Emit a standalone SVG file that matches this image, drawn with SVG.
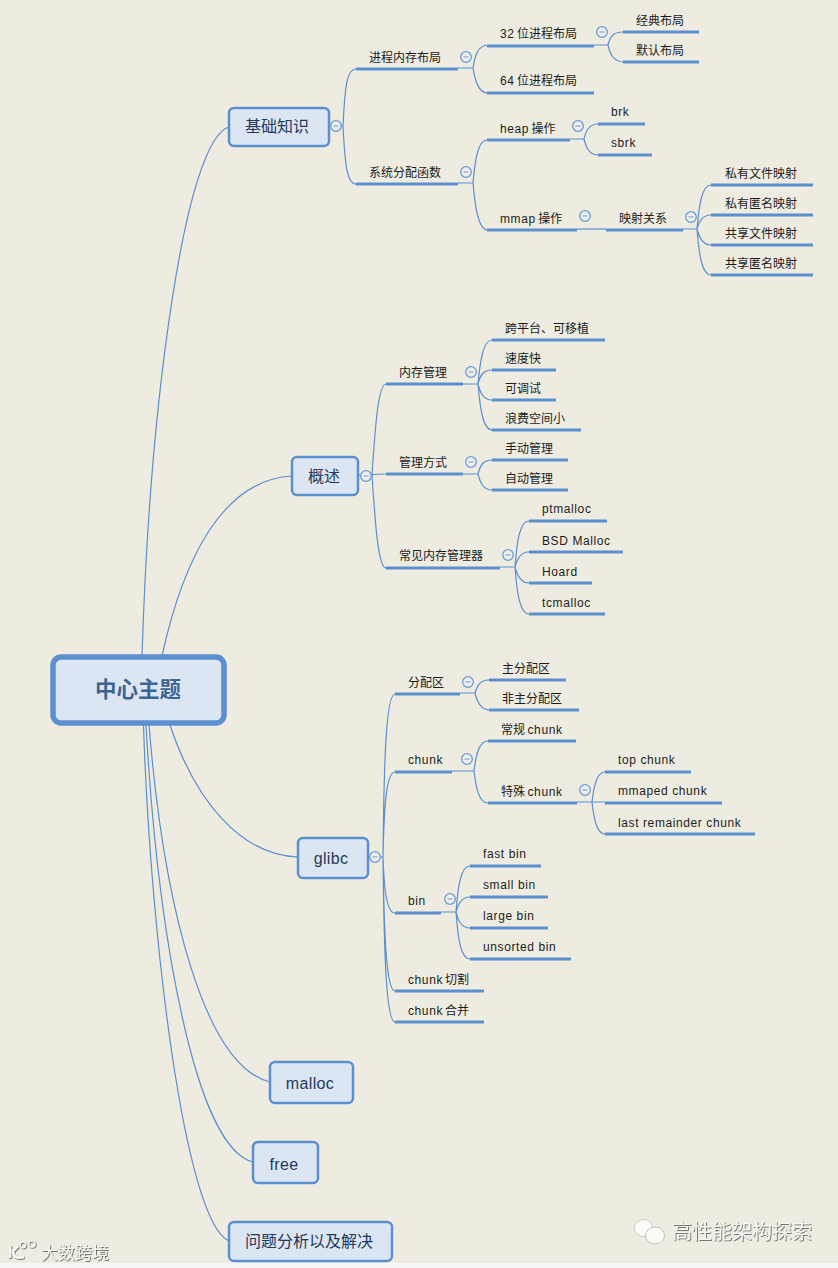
<svg xmlns="http://www.w3.org/2000/svg" width="838" height="1268" viewBox="0 0 838 1268">
<style>
text{font-family:"Liberation Sans","Noto Sans CJK SC",sans-serif}
.t{font-size:12px;fill:#1c1c1c;dominant-baseline:central;transform:translateY(1px)}
.t.ls{transform:none}
.ls{letter-spacing:.6px}
.b{fill:#dce6f3;stroke:#5b8fd0;stroke-width:2.5}
.bt{font-size:16px;fill:#24395a;text-anchor:middle;dominant-baseline:central}
.lat{letter-spacing:.35px}
.u{stroke:#5b8fd0;stroke-width:3;fill:none}
.c{stroke:#5b8fd0;stroke-width:1.2;fill:none}
.k{fill:#eeeeea;stroke:#6d9bd6;stroke-width:1.3}
.m{stroke:#6d9bd6;stroke-width:1}
.wm{fill:#f6f6f2;filter:url(#sh)}
</style>
<defs>
<filter id="sh" x="-10%" y="-20%" width="120%" height="140%"><feDropShadow dx=".8" dy=".8" stdDeviation=".35" flood-color="#444" flood-opacity=".9"/></filter>
<g id="col"><circle class="k" r="5.3"/><path class="m" d="M-2.5 0H2.5"/></g>
</defs>
<rect width="838" height="1268" fill="#eeece1"/>
<rect y="1263" width="838" height="5" fill="#f7f7f5"/>
<g id="connectors">
<path class="c" d="M142 656C150 400 185 140 229 127"/>
<path class="c" d="M162 656C183 560 222 480 292 476"/>
<path class="c" d="M170 725C195 800 240 855 298 857"/>
<path class="c" d="M149 725C164 910 205 1066 270 1082"/>
<path class="c" d="M146 725C158 940 196 1148 253 1162"/>
<path class="c" d="M143.500 725C150 930 184 1222 229 1241"/>
<path class="c" d="M329 126H343M343 126C345 85 347 69 356 69M343 126C345 165 347 184 356 184"/>
<path class="c" d="M458 68H473M473 68C475 55 478 46 487 45M473 68C475 80 478 92 487 93"/>
<path class="c" d="M594 45H608M608 45C610 37 613 32 623 32M608 45C610 54 613 61 623 62"/>
<path class="c" d="M458 183H473M473 183C475 160 478 140 487 140M473 183C475 205 478 229 487 230"/>
<path class="c" d="M570 139H584M584 139C586 131 589 124 598 124M584 139C586 147 589 155 598 155"/>
<path class="c" d="M577 229H606"/>
<path class="c" d="M683 229H697M697 229C699 205 702 185 711 185M697 229C699 222 702 215 711 215M697 229C699 236 702 245 711 245M697 229C699 255 702 275 711 275"/>
<path class="c" d="M359 475H372M372 475C375 430 378 384 386 384M372 475C375 474 378 474 386 474M372 475C375 520 378 568 386 568"/>
<path class="c" d="M463 384H478M478 384C480 362 483 340 492 340M478 384C480 376 483 370 492 370M478 384C480 392 483 400 492 400M478 384C480 408 483 430 492 430"/>
<path class="c" d="M463 474H478M478 474C480 466 483 460 492 460M478 474C480 482 483 490 492 490"/>
<path class="c" d="M500 567H515M515 567C517 540 520 521 529 521M515 567C517 560 520 552 529 552M515 567C517 574 520 583 529 583M515 567C517 594 520 614 529 614"/>
<path class="c" d="M368 857H383M383 857C384 760 386 694 395 694M383 857C384 810 386 772 395 772M383 857C384 885 386 913 395 913M383 857C384 930 386 991 395 991M383 857C384 950 386 1022 395 1022"/>
<path class="c" d="M460 693H475M475 693C477 686 480 680 489 680M475 693C477 701 480 709 489 710"/>
<path class="c" d="M452 771H474M474 771C476 755 479 741 488 741M474 771C476 788 479 803 488 803"/>
<path class="c" d="M577 802H592M592 802C594 785 597 772 605 772M592 802H605M592 802C594 820 597 834 605 834"/>
<path class="c" d="M441 912H456M456 912C458 885 461 866 470 866M456 912C458 905 461 897 470 897M456 912C458 920 461 928 470 928M456 912C458 940 461 959 470 959"/>
<path class="u" d="M356 69H458M487 46H594M487 93H594M623 32H699M623 62H699M356 184H458M487 140H570M598 124H645M598 155H652M487 230H577M606 230H683M711 185H813M711 215H813M711 245H813M711 275H813"/>
<path class="u" d="M386 384H463M492 340H605M492 370H556M492 400H556M492 430H581M386 474H463M492 460H568M492 490H568M386 568H500M529 521H607M529 552H623M529 583H592M529 614H605"/>
<path class="u" d="M395 694H460M489 680H566M489 710H579M395 772H452M488 741H576M488 803H577M605 772H691M605 803H722M605 834H755M395 913H441M470 866H541M470 897H548M470 928H548M470 959H571M395 991H484M395 1022H484"/>
</g>
<g id="center"><rect x="53" y="657" width="171" height="66" rx="8" fill="#dce6f3" stroke="#5b8fd0" stroke-width="5.500"/><text x="138" y="690" font-size="21.500" font-weight="bold" fill="#3d6592" text-anchor="middle" dominant-baseline="central">中心主题</text></g>
<g id="n-jichu"><rect class="b" x="229" y="108" width="100" height="38" rx="5"/><text class="bt" x="277" y="126">基础知识</text><use href="#col" x="336" y="126"/></g>
<g id="n-gaishu"><rect class="b" x="292" y="457" width="66" height="38" rx="5"/><text class="bt" x="324" y="476">概述</text><use href="#col" x="366" y="476"/></g>
<g id="n-glibc"><rect class="b" x="298" y="838" width="70" height="40" rx="5"/><text class="bt lat" x="331" y="858">glibc</text><use href="#col" x="375" y="857"/></g>
<g id="n-malloc"><rect class="b" x="270" y="1062" width="83" height="41" rx="5"/><text class="bt lat" x="310" y="1083">malloc</text></g>
<g id="n-free"><rect class="b" x="253" y="1142" width="65" height="41" rx="5"/><text class="bt lat" x="284" y="1164">free</text></g>
<g id="n-wenti"><rect class="b" x="229" y="1222" width="163" height="39" rx="5"/><text class="bt" x="309" y="1241">问题分析以及解决</text></g>
<g id="t1"><text class="t" x="369" y="57">进程内存布局</text><use href="#col" x="466" y="57"/></g>
<g id="t2"><text class="t" x="500" y="33"><tspan class="ls">32</tspan><tspan dx="2.500">位进程布局</tspan></text><use href="#col" x="602" y="32"/></g>
<g id="t3"><text class="t" x="500" y="80"><tspan class="ls">64</tspan><tspan dx="2.500">位进程布局</tspan></text></g>
<g id="t4"><text class="t" x="636" y="20">经典布局</text></g>
<g id="t5"><text class="t" x="636" y="50">默认布局</text></g>
<g id="t6"><text class="t" x="369" y="172">系统分配函数</text><use href="#col" x="466" y="172"/></g>
<g id="t7"><text class="t" x="500" y="128"><tspan class="ls">heap</tspan><tspan dx="2.500">操作</tspan></text><use href="#col" x="578" y="126"/></g>
<g id="t8"><text class="t ls" x="611" y="112">brk</text></g>
<g id="t9"><text class="t ls" x="611" y="143">sbrk</text></g>
<g id="t10"><text class="t" x="500" y="218"><tspan class="ls">mmap</tspan><tspan dx="2.500">操作</tspan></text><use href="#col" x="585" y="216"/></g>
<g id="t11"><text class="t" x="619" y="218">映射关系</text><use href="#col" x="691" y="217"/></g>
<g id="t12"><text class="t" x="725" y="173">私有文件映射</text></g>
<g id="t13"><text class="t" x="725" y="203">私有匿名映射</text></g>
<g id="t14"><text class="t" x="725" y="233">共享文件映射</text></g>
<g id="t15"><text class="t" x="725" y="263">共享匿名映射</text></g>
<g id="t16"><text class="t" x="399" y="372">内存管理</text><use href="#col" x="471" y="372"/></g>
<g id="t17"><text class="t" x="505" y="328">跨平台、可移植</text></g>
<g id="t18"><text class="t" x="505" y="358">速度快</text></g>
<g id="t19"><text class="t" x="505" y="388">可调试</text></g>
<g id="t20"><text class="t" x="505" y="418">浪费空间小</text></g>
<g id="t21"><text class="t" x="399" y="462">管理方式</text><use href="#col" x="471" y="462"/></g>
<g id="t22"><text class="t" x="505" y="448">手动管理</text></g>
<g id="t23"><text class="t" x="505" y="478">自动管理</text></g>
<g id="t24"><text class="t" x="399" y="555">常见内存管理器</text><use href="#col" x="508" y="555"/></g>
<g id="t25"><text class="t ls" x="542" y="509">ptmalloc</text></g>
<g id="t26"><text class="t ls" x="542" y="541">BSD Malloc</text></g>
<g id="t27"><text class="t ls" x="542" y="572">Hoard</text></g>
<g id="t28"><text class="t ls" x="542" y="603">tcmalloc</text></g>
<g id="t29"><text class="t" x="408" y="682">分配区</text><use href="#col" x="468" y="682"/></g>
<g id="t30"><text class="t" x="502" y="668">主分配区</text></g>
<g id="t31"><text class="t" x="502" y="698">非主分配区</text></g>
<g id="t32"><text class="t ls" x="408" y="760">chunk</text><use href="#col" x="467" y="759"/></g>
<g id="t33"><text class="t" x="501" y="729">常规<tspan class="ls" dx="2.500">chunk</tspan></text></g>
<g id="t34"><text class="t" x="501" y="791">特殊<tspan class="ls" dx="2.500">chunk</tspan></text><use href="#col" x="585" y="790"/></g>
<g id="t35"><text class="t ls" x="618" y="760">top chunk</text></g>
<g id="t36"><text class="t ls" x="618" y="791">mmaped chunk</text></g>
<g id="t37"><text class="t ls" x="618" y="823">last remainder chunk</text></g>
<g id="t38"><text class="t ls" x="408" y="901">bin</text><use href="#col" x="450" y="899"/></g>
<g id="t39"><text class="t ls" x="483" y="854">fast bin</text></g>
<g id="t40"><text class="t ls" x="483" y="885">small bin</text></g>
<g id="t41"><text class="t ls" x="483" y="916">large bin</text></g>
<g id="t42"><text class="t ls" x="483" y="947">unsorted bin</text></g>
<g id="t43"><text class="t" x="408" y="979"><tspan class="ls">chunk</tspan><tspan dx="2">切割</tspan></text></g>
<g id="t44"><text class="t" x="408" y="1010"><tspan class="ls">chunk</tspan><tspan dx="2">合并</tspan></text></g>
<g id="watermark-left" filter="url(#sh)">
<path d="M10 1245V1258M18 1246L13 1251C13 1256 16 1259 24 1257" fill="none" stroke="#f6f6f2" stroke-width="2.600"/>
<circle cx="23" cy="1245" r="2.800" fill="none" stroke="#f6f6f2" stroke-width="1.200"/><circle cx="32" cy="1244" r="3.200" fill="none" stroke="#f6f6f2" stroke-width="1.200"/>
<text x="41" y="1258.500" font-size="17" fill="#f6f6f2">大数跨境</text>
</g>
<g id="watermark-right">
<ellipse cx="643.500" cy="1228" rx="9" ry="8.500" fill="#fbfbf8" stroke="#aaa" stroke-width=".5"/><ellipse cx="655" cy="1235.500" rx="9.500" ry="8.500" fill="#fbfbf8" stroke="#aaa" stroke-width=".7"/>
<text class="wm" x="672" y="1239" font-size="20">高性能架构探索</text>
</g>
</svg>
